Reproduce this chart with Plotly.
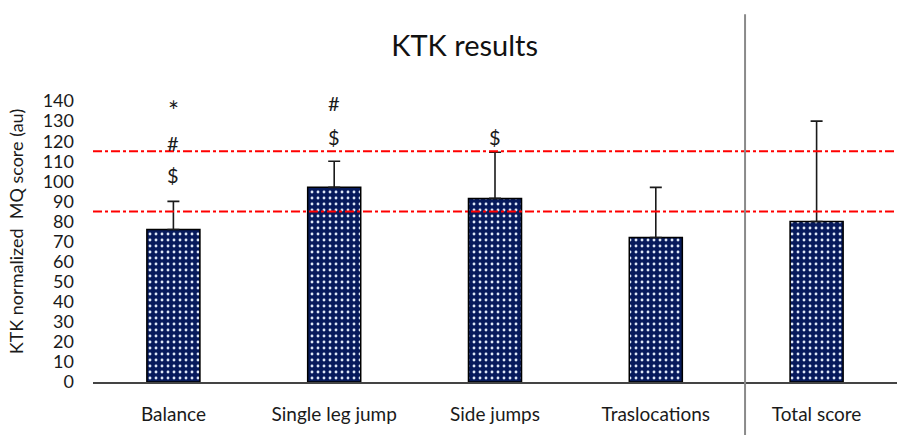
import plotly.graph_objects as go

# KTK test components and normalised motor quotient scores (mean + SD)
categories = ["Balance", "Single leg jump", "Side jumps", "Traslocations", "Total score"]
mean_scores = [76, 97, 91.5, 72, 80]
sd_scores = [14, 13, 23, 25, 50]

# significance markers placed above each bar (symbol, y position)
sig_labels = ["*", "#", "$", "#", "$", "$"]
sig_categories = ["Balance", "Balance", "Balance", "Single leg jump", "Single leg jump", "Side jumps"]
sig_positions = [137, 119, 103, 139, 122, 122]

# normative reference band
ref_lines = [85, 115]
y_ticks = list(range(0, 141, 10))

FONT = "Lato"
TEXT = "#1a1a1a"

fig = go.Figure()
fig.add_trace(go.Bar(
    x=categories,
    y=mean_scores,
    marker=dict(
        color="#071a5c",
        line=dict(color="#000000", width=1.5),
        pattern=dict(shape=".", fgcolor="#dfe8f7", bgcolor="#071a5c",
                     size=6, solidity=0.18, fillmode="replace"),
    ),
    error_y=dict(type="data", symmetric=False, array=sd_scores, arrayminus=[0] * 5,
                 color=TEXT, thickness=1.6, width=6),
    showlegend=False,
))

for yv in ref_lines:
    fig.add_shape(type="line", xref="paper", yref="y", x0=0, x1=1, y0=yv, y1=yv,
                  line=dict(color="#ff0000", width=2, dash="9px,3px,3px,3px"))

# separator between component scores and the total
fig.add_shape(type="line", xref="paper", yref="paper", x0=0.811, x1=0.811,
              y0=-0.18, y1=1.222, line=dict(color="#8a8a8a", width=2))

for lab, cat, yv in zip(sig_labels, sig_categories, sig_positions):
    fig.add_annotation(x=cat, y=yv, xref="x", yref="y", text=lab, showarrow=False,
                       font=dict(family=FONT, size=26 if lab == "*" else 20, color=TEXT),
                       yshift=-4 if lab == "*" else 0)

fig.update_layout(
    width=897, height=435,
    margin=dict(l=93, r=0, t=81, b=53),
    paper_bgcolor="white", plot_bgcolor="white",
    bargap=0.67,
    title=dict(text="KTK results", x=0.518, xanchor="center", y=0.895, yanchor="middle",
               font=dict(family=FONT, size=29, color="#111111")),
    font=dict(family=FONT, color=TEXT),
    xaxis=dict(showline=True, linecolor="#444444", linewidth=2, showgrid=False,
               ticks="", ticklabelstandoff=14, tickfont=dict(size=19, color=TEXT),
               fixedrange=True),
    yaxis=dict(range=[0, 150], tickvals=y_ticks, showgrid=False, showline=False,
               zeroline=False, ticks="", ticklabelstandoff=18,
               tickfont=dict(size=18, color=TEXT),
               title=dict(text="KTK normalized  MQ score (au)", standoff=14,
                          font=dict(size=18, color=TEXT))),
)

fig.write_html("out.html")
